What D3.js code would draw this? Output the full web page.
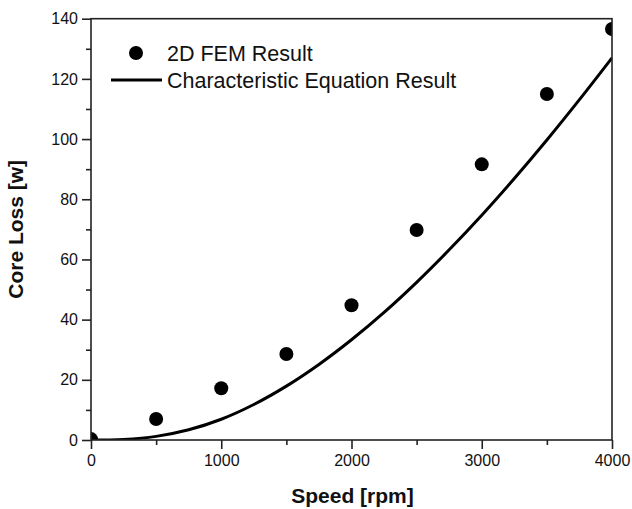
<!DOCTYPE html>
<html><head><meta charset="utf-8">
<script src="https://cdn.jsdelivr.net/npm/d3@7"></script>
<style>html,body{margin:0;padding:0;background:#fff;}</style>
</head><body>
<script>
const femSpeed = [0, 500, 1000, 1500, 2000, 2500, 3000, 3500, 4000];
const femLoss = [0.3, 7.0, 17.2, 28.6, 44.8, 69.8, 91.6, 115.0, 136.6];
const eqSpeed = [0, 250, 500, 750, 1000, 1250, 1500, 1750, 2000, 2250, 2500, 2750, 3000, 3250, 3500, 3750, 4000];
const eqLoss = [0, 0.2, 1.2, 3.4, 6.9, 11.8, 17.9, 25.1, 33.3, 42.4, 52.4, 63.2, 74.7, 86.9, 99.7, 113.1, 127.0];
const xTicks = [0, 1000, 2000, 3000, 4000];
const xMinor = [500, 1500, 2500, 3500];
const yTicks = [0, 20, 40, 60, 80, 100, 120, 140];
const yMinor = [10, 30, 50, 70, 90, 110, 130];
const legendLabels = ["2D FEM Result", "Characteristic Equation Result"];

const W = 632, H = 509;
const L = 91, R = 612, T = 18.7, B = 440;
const svg = d3.select("body").append("svg").attr("width", W).attr("height", H);
const x = d3.scaleLinear().domain([0, 4000]).range([L, R]);
const y = d3.scaleLinear().domain([0, 140]).range([B, T]);
const font = "Liberation Sans, Arial, sans-serif";

svg.append("defs").append("clipPath").attr("id", "clip")
  .append("rect").attr("x", L).attr("y", T).attr("width", R - L).attr("height", B - T);

const plot = svg.append("g").attr("clip-path", "url(#clip)");
plot.append("path")
  .datum(eqSpeed.map((s, i) => [s, eqLoss[i]]))
  .attr("fill", "none").attr("stroke", "#000").attr("stroke-width", 3)
  .attr("d", d3.line().x(d => x(d[0])).y(d => y(d[1])).curve(d3.curveCatmullRom));
plot.selectAll("circle.fem").data(femSpeed.map((s, i) => [s, femLoss[i]]))
  .enter().append("circle").attr("class", "fem")
  .attr("cx", d => x(d[0])).attr("cy", d => y(d[1])).attr("r", 7).attr("fill", "#000");

// frame
svg.append("rect").attr("x", L).attr("y", T).attr("width", R - L).attr("height", B - T)
  .attr("fill", "none").attr("stroke", "#222").attr("stroke-width", 1.6);

// axes
svg.append("g").attr("transform", `translate(0,${B})`)
  .call(d3.axisBottom(x).tickValues(xTicks).tickSize(9).tickPadding(6).tickFormat(d3.format("d")));
svg.append("g").attr("transform", `translate(0,${B})`)
  .call(d3.axisBottom(x).tickValues(xMinor).tickSize(5).tickFormat(""));
svg.append("g").attr("transform", `translate(${L},0)`)
  .call(d3.axisLeft(y).tickValues(yTicks).tickSize(9).tickPadding(4).tickFormat(d3.format("d")));
svg.append("g").attr("transform", `translate(${L},0)`)
  .call(d3.axisLeft(y).tickValues(yMinor).tickSize(5).tickFormat(""));
svg.selectAll(".domain").remove();
svg.selectAll(".tick line").attr("stroke", "#222").attr("stroke-width", 1.6);
svg.selectAll(".tick text").attr("font-family", font).attr("font-size", 16).attr("fill", "#111");

// axis titles
svg.append("text").attr("x", (L + R) / 2 + 1).attr("y", 503).attr("text-anchor", "middle")
  .attr("font-family", font).attr("font-weight", "bold").attr("font-size", 21).attr("fill", "#111")
  .text("Speed [rpm]");
svg.append("text").attr("transform", `translate(23,${(T + B) / 2}) rotate(-90)`).attr("text-anchor", "middle")
  .attr("font-family", font).attr("font-weight", "bold").attr("font-size", 21).attr("fill", "#111")
  .text("Core Loss [w]");

// legend
const lg = svg.append("g");
lg.append("circle").attr("cx", 136).attr("cy", 53).attr("r", 7).attr("fill", "#000");
lg.append("text").attr("x", 167).attr("y", 60.5).attr("font-family", font).attr("font-size", 21.5).attr("fill", "#111").text(legendLabels[0]);
lg.append("line").attr("x1", 111).attr("x2", 162).attr("y1", 80).attr("y2", 80).attr("stroke", "#000").attr("stroke-width", 3);
lg.append("text").attr("x", 167).attr("y", 87.5).attr("font-family", font).attr("font-size", 21.5).attr("fill", "#111").text(legendLabels[1]);
</script>
</body></html>
